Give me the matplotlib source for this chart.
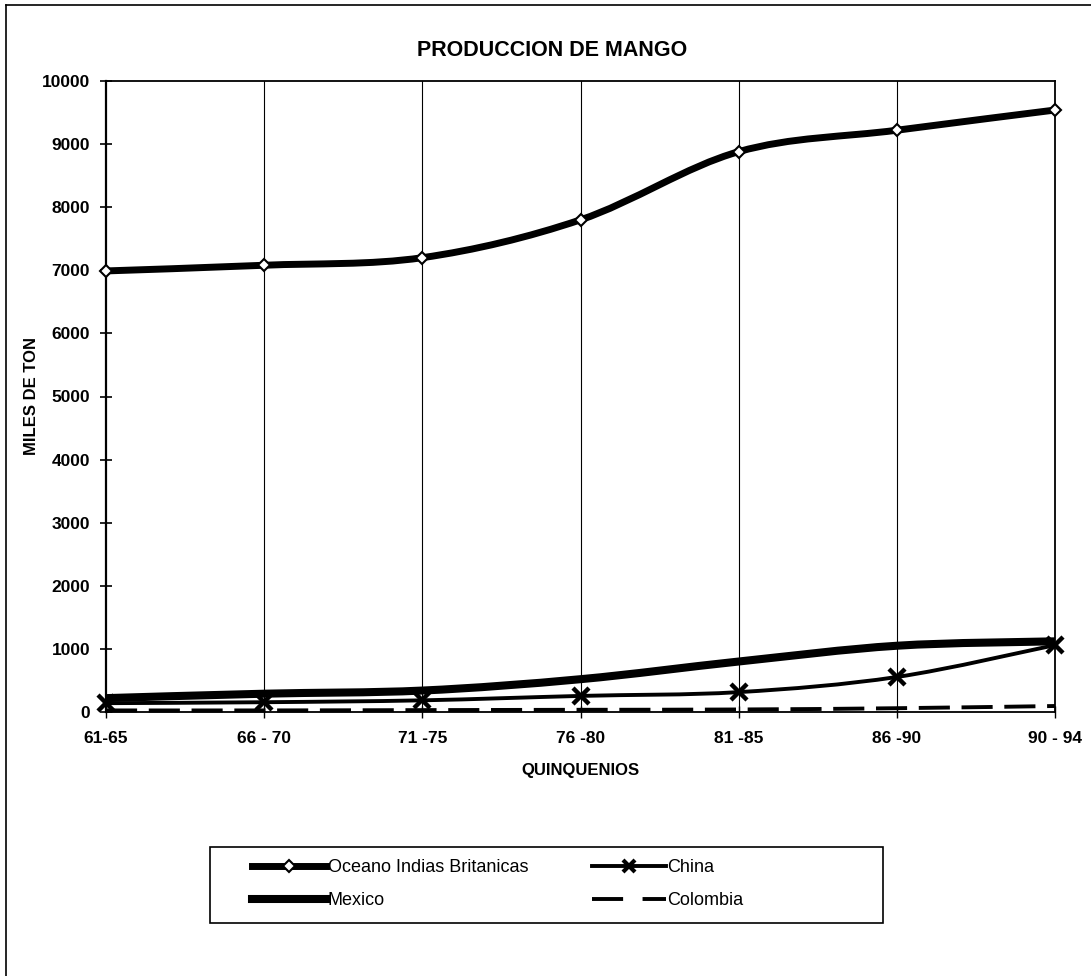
import numpy as np
import matplotlib
matplotlib.use("Agg")
import matplotlib.pyplot as plt
from matplotlib.path import Path
from matplotlib.patches import PathPatch, Rectangle
from matplotlib.lines import Line2D

plt.rcParams['font.family'] = ['Liberation Sans', 'DejaVu Sans']

# datos (miles de toneladas) por quinquenio
quinquenios = ["61-65", "66 - 70", "71 -75", "76 -80", "81 -85", "86 -90", "90 - 94"]
oceano = [6990, 7080, 7200, 7800, 8880, 9220, 9540]
mexico = [220, 290, 340, 520, 800, 1050, 1120]
china = [140, 155, 185, 255, 315, 555, 1060]
colombia = [25, 25, 30, 35, 40, 60, 95]

W, H = 1091, 976
fig = plt.figure(figsize=(W / 100, H / 100), dpi=100)

def fx(px):
    return px / W

def fy(py):
    return 1 - py / H

# area del grafico
ax = fig.add_axes([fx(106), fy(712), fx(1055) - fx(106), fy(81) - fy(712)])
x = np.arange(len(quinquenios))
ax.set_xlim(0, len(quinquenios) - 1)
ax.set_ylim(0, 10000)
ax.set_yticks(np.arange(0, 10001, 1000))
ax.set_xticks(x)
ax.set_xticklabels(quinquenios)
for lbl in ax.get_xticklabels() + ax.get_yticklabels():
    lbl.set_fontweight("bold")
ax.tick_params(axis="y", direction="inout", length=9, width=1.2, pad=7, labelsize=12.5)
ax.tick_params(axis="x", direction="inout", length=9, width=1.0, pad=9, labelsize=12.5)
for xi in x[1:-1]:
    ax.axvline(xi, color="k", lw=0.8, zorder=1)
ax.spines["left"].set_linewidth(1.6)
ax.spines["top"].set_linewidth(1.3)
ax.spines["right"].set_linewidth(1.3)
ax.spines["bottom"].set_linewidth(1.3)


def suave(xs, ys):
    # curva suavizada tipo Excel (bezier por los puntos)
    pts = np.column_stack([xs, ys]).astype(float)
    verts = [pts[0]]
    codes = [Path.MOVETO]
    n = len(pts)
    for i in range(n - 1):
        p0 = pts[i - 1] if i > 0 else pts[i]
        p1 = pts[i]
        p2 = pts[i + 1]
        p3 = pts[i + 2] if i + 2 < n else pts[i + 1]
        verts += [p1 + (p2 - p0) / 6, p2 - (p3 - p1) / 6, p2]
        codes += [Path.CURVE4] * 3
    return Path(verts, codes)


def linea(ys, lw, ls="-"):
    pp = PathPatch(suave(x, ys), fill=False, edgecolor="k", lw=lw, linestyle=ls,
                   capstyle="butt", joinstyle="round", clip_on=False, zorder=3)
    ax.add_patch(pp)

linea(oceano, 5)
linea(mexico, 5.8)
linea(china, 2.8)
linea(colombia, 2.8, (0, (8, 3)))

ax.plot(x, oceano, ls="none", marker="D", ms=6.5, mfc="w", mec="k", mew=1.5,
        zorder=5, clip_on=False)
ax.plot(x, china, ls="none", marker="x", ms=11, mec="k", mew=3.2,
        zorder=5, clip_on=False)

# textos
fig.text(fx(552), fy(50), "PRODUCCION DE MANGO", ha="center", va="center",
         fontsize=15.5, fontweight="bold")
fig.text(fx(580), fy(770), "QUINQUENIOS", ha="center", va="center",
         fontsize=12, fontweight="bold")
fig.text(fx(32), fy(396), "MILES DE TON", ha="center", va="center",
         rotation=90, fontsize=12, fontweight="bold")

# leyenda
handles = [
    Line2D([], [], color="k", lw=5, marker="D", ms=6, mfc="w", mec="k", mew=1.5),
    Line2D([], [], color="k", lw=5.8),
    Line2D([], [], color="k", lw=2.8, marker="x", ms=9, mec="k", mew=3),
    Line2D([], [], color="k", lw=2.8, ls=(0, (8, 5))),
]
labels = ["Oceano Indias Britanicas", "Mexico", "China", "Colombia"]
fig.legend(handles, labels, ncol=2, loc="upper left",
           bbox_to_anchor=(fx(243), fy(850)), frameon=False, borderpad=0,
           fontsize=13, handlelength=4.1, handletextpad=0.1,
           columnspacing=3.5, labelspacing=0.9)
fig.add_artist(Rectangle((fx(210), fy(923)), fx(883) - fx(210), fy(847) - fy(923),
                         transform=fig.transFigure, fill=False, ec="k", lw=1.2))

# marco de la figura
fig.add_artist(Line2D([fx(6), fx(6)], [fy(5), 0], transform=fig.transFigure,
                      color="k", lw=1.2))
fig.add_artist(Line2D([fx(6), 1], [fy(5), fy(5)], transform=fig.transFigure,
                      color="k", lw=1.2))

fig.savefig("out.png", dpi=100)
